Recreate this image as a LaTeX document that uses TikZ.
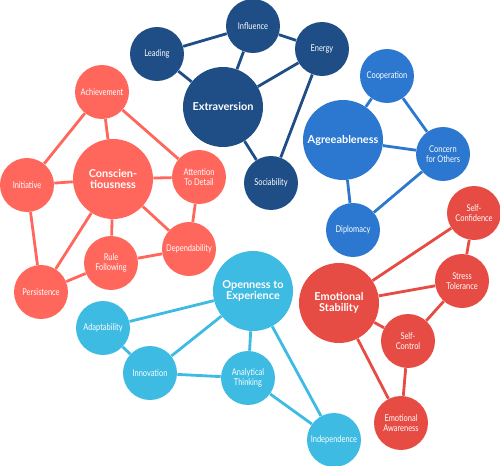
\documentclass[tikz,border=0pt]{standalone}
\usepackage{fontspec}
\setmainfont{Lato}
\newfontfamily\condfont[FakeStretch=0.8]{Lato}
\usetikzlibrary{backgrounds}

\definecolor{extrablue}{HTML}{1F4D85}
\definecolor{agreeblue}{HTML}{2C78D0}
\definecolor{conscred}{HTML}{FF675C}
\definecolor{emored}{HTML}{E74C44}
\definecolor{opencyan}{HTML}{3DBBE2}

\tikzset{
  trait/.style={circle, fill=#1, draw=none, inner sep=0pt, minimum size=1.6cm,
    text=white, align=center, font=\fontsize{6.2}{6.6}\selectfont\bfseries},
  facet/.style={circle, fill=#1, draw=none, inner sep=0pt, minimum size=1.08cm,
    text=white, align=center, font=\condfont\fontsize{5.3}{5.6}\selectfont},
  link/.style={draw=#1, line width=1.6pt}
}

\begin{document}
\begin{tikzpicture}[x=0.02cm, y=-0.02cm]
        \useasboundingbox (0, 0) rectangle (500, 466);

        % extraversion
        \node[trait=extrablue] (extra) at (223, 107) {Extraversion};
        \node[facet=extrablue] (lead) at (157, 54) {Leading};
        \node[facet=extrablue] (infl) at (253, 26) {Influence};
        \node[facet=extrablue] (energy) at (322, 49) {Energy};
        \node[facet=extrablue] (social) at (271, 183) {Sociability};

        % agreeableness
        \node[trait=agreeblue] (agree) at (343, 140) {Agreeableness};
        \node[facet=agreeblue] (coop) at (387, 76) {Cooperation};
        \node[facet=agreeblue] (concern) at (443, 154) {Concern\\for Others};
        \node[facet=agreeblue] (diplo) at (353, 230) {Diplomacy};

        % conscientiousness
        \node[trait=conscred] (consc) at (113, 179) {Conscien-\\tiousness};
        \node[facet=conscred] (achieve) at (102, 92) {Achievement};
        \node[facet=conscred] (init) at (27, 185) {Initiative};
        \node[facet=conscred] (attn) at (199, 177) {Attention\\To Detail};
        \node[facet=conscred] (depend) at (189, 249) {Dependability};
        \node[facet=conscred] (rule) at (111, 263) {Rule\\Following};
        \node[facet=conscred] (persist) at (41, 292) {Persistence};

        % emotional stability
        \node[trait=emored] (emo) at (339, 303) {Emotional\\Stability};
        \node[facet=emored] (selfconf) at (474, 213) {Self-\\Confidence};
        \node[facet=emored] (stress) at (462, 281) {Stress\\Tolerance};
        \node[facet=emored] (selfctrl) at (408, 341) {Self-\\Control};
        \node[facet=emored] (aware) at (401, 423) {Emotional\\Awareness};

        % openness
        \node[trait=opencyan] (open) at (253, 291) {Openness to\\Experience};
        \node[facet=opencyan] (adapt) at (103, 328) {Adaptability};
        \node[facet=opencyan] (innov) at (150, 373) {Innovation};
        \node[facet=opencyan] (analyt) at (248, 378) {Analytical\\Thinking};
        \node[facet=opencyan] (indep) at (334, 440) {Independence};

        \begin{scope}[on background layer]
          \draw[link=extrablue] (lead) -- (infl) (lead) -- (extra) (infl) -- (extra)
            (infl) -- (energy) (energy) -- (extra) (energy) -- (social) (extra) -- (social);
          \draw[link=agreeblue] (agree) -- (coop) (coop) -- (concern) (agree) -- (concern)
            (agree) -- (diplo) (diplo) -- (concern);
          \draw[link=conscred] (achieve) -- (init) (achieve) -- (consc) (achieve) -- (attn)
            (init) -- (consc) (consc) -- (attn) (attn) -- (depend) (consc) -- (depend)
            (consc) -- (rule) (consc) -- (persist) (rule) -- (depend) (rule) -- (persist)
            (init) -- (persist);
          \draw[link=emored] (emo) -- (selfconf) (selfconf) -- (stress) (emo) -- (stress)
            (stress) -- (selfctrl) (emo) -- (selfctrl) (selfctrl) -- (aware) (emo) -- (aware);
          \draw[link=opencyan] (open) -- (adapt) (adapt) -- (innov) (innov) -- (open)
            (innov) -- (analyt) (open) -- (analyt) (analyt) -- (indep) (open) -- (indep);
        \end{scope}

      \end{tikzpicture}
\end{document}
